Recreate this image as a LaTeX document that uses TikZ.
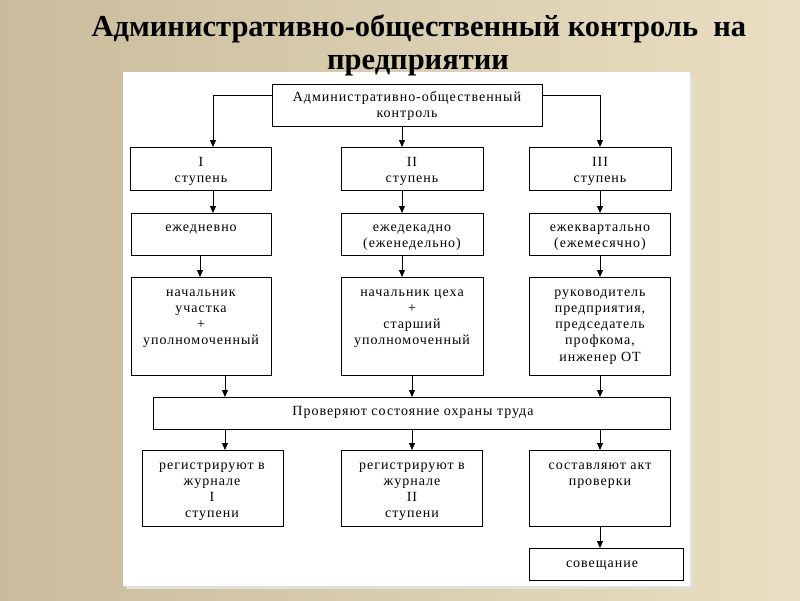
\documentclass[tikz,border=0pt]{standalone}
\usepackage{fontspec}
\setmainfont{Liberation Serif}
\newfontfamily\boxfont[LetterSpace=7]{Liberation Serif}
\newfontfamily\titlefont{Liberation Serif}
\usetikzlibrary{arrows.meta,calc}
\definecolor{bgL}{RGB}{200,188,156}
\definecolor{bgR}{RGB}{234,223,194}
\tikzset{
  box/.style={draw=black, line width=0.9pt, fill=white, inner sep=0pt, anchor=north west},
  txt/.style={align=center, inner sep=0pt, anchor=base, font=\boxfont\fontsize{14}{16.3}\selectfont},
  arr/.style={draw=black, line width=0.9pt, -{Triangle[length=7pt,width=6pt]}},
  ttl/.style={anchor=base, inner sep=0pt, font=\titlefont\fontsize{30.5}{32}\bfseries\selectfont}
}
\begin{document}
\begin{tikzpicture}[x=1pt,y=-1pt]
\useasboundingbox (0,0) rectangle (800,600);
\shade[left color=bgL, right color=bgR] (0,0) rectangle (800,600);
\fill[black!12] (126,75) rectangle (693,589);
\fill[white] (123,72) rectangle (690,586);

\node[ttl] (title1) at (419,36) {Административно-общественный контроль~ на};
\node[ttl] (title2) at (418,69) {предприятии};

% boxes
\node[box, minimum width=270pt, minimum height=42pt] (top) at (272,84) {};
\node[box, minimum width=141pt, minimum height=43pt] (s1) at (130,147) {};
\node[box, minimum width=142pt, minimum height=43pt] (s2) at (341,147) {};
\node[box, minimum width=142pt, minimum height=43pt] (s3) at (529,147) {};
\node[box, minimum width=140pt, minimum height=42pt] (f1) at (131,213) {};
\node[box, minimum width=142pt, minimum height=42pt] (f2) at (341,213) {};
\node[box, minimum width=141pt, minimum height=42pt] (f3) at (529,213) {};
\node[box, minimum width=140pt, minimum height=98pt] (p1) at (131,277) {};
\node[box, minimum width=142pt, minimum height=98pt] (p2) at (341,277) {};
\node[box, minimum width=141pt, minimum height=98pt] (p3) at (529,277) {};
\node[box, minimum width=517pt, minimum height=32pt] (chk) at (153,397) {};
\node[box, minimum width=141pt, minimum height=76pt] (r1) at (142,450) {};
\node[box, minimum width=141pt, minimum height=76pt] (r2) at (341,450) {};
\node[box, minimum width=141pt, minimum height=76pt] (r3) at (529,450) {};
\node[box, line width=1.3pt, minimum width=154pt, minimum height=32pt] (meet) at (529,548) {};

% texts (anchored at the baseline of the last line)
\node[txt] (ttop) at (407,117.3) {Административно-общественный\\контроль};
\node[txt] (ts1) at (201,182.8) {I\\ступень};
\node[txt] (ts2) at (412,182.8) {II\\ступень};
\node[txt] (ts3) at (600,182.8) {III\\ступень};
\node[txt] (tf1) at (201,231) {ежедневно};
\node[txt] (tf2) at (412,247.3) {ежедекадно\\(еженедельно)};
\node[txt] (tf3) at (600,247.3) {ежеквартально\\(ежемесячно)};
\node[txt] (tp1) at (201,344.9) {начальник\\участка\\+\\уполномоченный};
\node[txt] (tp2) at (412,344.9) {начальник цеха\\+\\старший\\уполномоченный};
\node[txt] (tp3) at (600,361.2) {руководитель\\предприятия,\\председатель\\профкома,\\инженер ОТ};
\node[txt] (tchk) at (413,415) {Проверяют состояние охраны труда};
\node[txt] (tr1) at (212,517.9) {регистрируют в\\журнале\\I\\ступени};
\node[txt] (tr2) at (412,517.9) {регистрируют в\\журнале\\II\\ступени};
\node[txt] (tr3) at (600,485.3) {составляют акт\\проверки};
\node[txt] (tmeet) at (602,567) {совещание};

% connector x positions
\coordinate (xa) at (213,0);
\coordinate (xb) at (402,0);
\coordinate (xc) at (600,0);
\coordinate (xd) at (200,0);
\coordinate (xe) at (225,0);
\coordinate (xf) at (412,0);

\draw[arr] ([yshift=10pt]top.west) -| (s1.north -| xa);
\draw[arr] (top.south -| xb) -- (s2.north -| xb);
\draw[arr] ([yshift=10pt]top.east) -| (s3.north -| xc);

\draw[arr] (s1.south -| xa) -- (f1.north -| xa);
\draw[arr] (s2.south -| xb) -- (f2.north -| xb);
\draw[arr] (s3.south -| xc) -- (f3.north -| xc);

\draw[arr] (f1.south -| xd) -- (p1.north -| xd);
\draw[arr] (f2.south -| xb) -- (p2.north -| xb);
\draw[arr] (f3.south -| xc) -- (p3.north -| xc);

\draw[arr] (p1.south -| xe) -- (chk.north -| xe);
\draw[arr] (p2.south -| xf) -- (chk.north -| xf);
\draw[arr] (p3.south -| xc) -- (chk.north -| xc);

\draw[arr] (chk.south -| xe) -- (r1.north -| xe);
\draw[arr] (chk.south -| xf) -- (r2.north -| xf);
\draw[arr] (chk.south -| xc) -- (r3.north -| xc);

\draw[arr] (r3.south -| xc) -- (meet.north -| xc);
\end{tikzpicture}
\end{document}
